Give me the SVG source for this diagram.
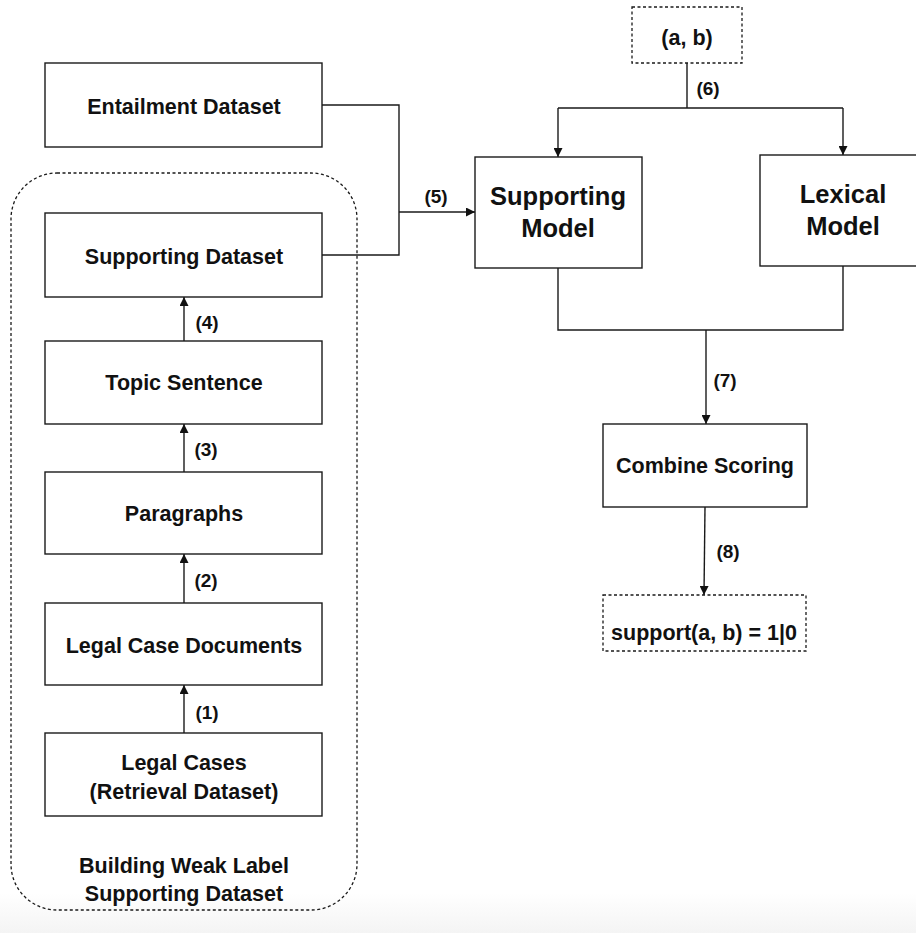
<svg xmlns="http://www.w3.org/2000/svg" width="916" height="933" viewBox="0 0 916 933">
  <defs>
    <marker id="arrow" viewBox="0 0 10 10" refX="10" refY="5" markerWidth="9" markerHeight="9" markerUnits="userSpaceOnUse" orient="auto">
      <path d="M0,0 L10,5 L0,10 z" fill="#111"/>
    </marker>
    <linearGradient id="floor" x1="0" y1="0" x2="0" y2="1">
      <stop offset="0" stop-color="#ffffff"/>
      <stop offset="1" stop-color="#f4f4f4"/>
    </linearGradient>
    <style>
      .box { fill: #fff; stroke: #1a1a1a; stroke-width: 1.4; }
      .dash { fill: none; stroke: #1a1a1a; stroke-width: 1.3; stroke-dasharray: 3 2.5; }
      .dashbox { fill: #fff; stroke: #1a1a1a; stroke-width: 1.3; stroke-dasharray: 3 2.5; }
      .wire { fill: none; stroke: #1a1a1a; stroke-width: 1.4; }
      .arr { marker-end: url(#arrow); }
      text { font-family: "Liberation Sans", Arial, Helvetica, sans-serif; font-weight: bold; fill: #111; text-anchor: middle; }
      .t { font-size: 21.5px; }
      .big { font-size: 25.5px; }
      .lbl { font-size: 19px; }
    </style>
  </defs>

  <rect x="0" y="0" width="916" height="933" fill="#fff"/>
  <rect x="0" y="893" width="916" height="40" fill="url(#floor)"/>

  <!-- grouping frame for the weak-label pipeline -->
  <g id="weak-label-group">
    <rect class="dash" x="11" y="173" width="346" height="737" rx="46" ry="46"/>
    <text class="t" x="184" y="873">Building Weak Label</text>
    <text class="t" x="184" y="901">Supporting Dataset</text>
  </g>

  <!-- connectors -->
  <g id="connectors">
    <path class="wire" d="M322,105 H399 V255 H322"/>
    <path class="wire arr" d="M399,212 H475"/>
    <text class="lbl" x="436" y="203">(5)</text>

    <path class="wire arr" d="M184,341 V297"/>
    <text class="lbl" x="207" y="329">(4)</text>
    <path class="wire arr" d="M184,472 V424"/>
    <text class="lbl" x="206" y="456">(3)</text>
    <path class="wire arr" d="M184,603 V554"/>
    <text class="lbl" x="206" y="587">(2)</text>
    <path class="wire arr" d="M184,733 V685"/>
    <text class="lbl" x="207" y="719">(1)</text>

    <path class="wire" d="M687,63 V108 M558,108 H843"/>
    <path class="wire arr" d="M558,108 V157"/>
    <path class="wire arr" d="M843,108 V155"/>
    <text class="lbl" x="708" y="95">(6)</text>

    <path class="wire" d="M558,268 V330 H843 V266"/>
    <path class="wire arr" d="M706,330 V424"/>
    <text class="lbl" x="725" y="387">(7)</text>

    <path class="wire arr" d="M705,507 L704,595"/>
    <text class="lbl" x="728" y="558">(8)</text>
  </g>

  <!-- nodes -->
  <g id="entailment-dataset">
    <rect class="box" x="45" y="63" width="277" height="84"/>
    <text class="t" x="184" y="114">Entailment Dataset</text>
  </g>
  <g id="supporting-dataset">
    <rect class="box" x="45" y="213" width="277" height="84"/>
    <text class="t" x="184" y="264">Supporting Dataset</text>
  </g>
  <g id="topic-sentence">
    <rect class="box" x="45" y="341" width="277" height="83"/>
    <text class="t" x="184" y="390">Topic Sentence</text>
  </g>
  <g id="paragraphs">
    <rect class="box" x="45" y="472" width="277" height="82"/>
    <text class="t" x="184" y="521">Paragraphs</text>
  </g>
  <g id="legal-case-documents">
    <rect class="box" x="45" y="603" width="277" height="82"/>
    <text class="t" x="184" y="653">Legal Case Documents</text>
  </g>
  <g id="legal-cases">
    <rect class="box" x="45" y="733" width="277" height="83"/>
    <text class="t" x="184" y="770">Legal Cases</text>
    <text class="t" x="184" y="799">(Retrieval Dataset)</text>
  </g>

  <g id="input-pair">
    <rect class="dashbox" x="632" y="7" width="110" height="56"/>
    <text class="t" x="687" y="45">(a, b)</text>
  </g>
  <g id="supporting-model">
    <rect class="box" x="475" y="157" width="167" height="111"/>
    <text class="big" x="558" y="205">Supporting</text>
    <text class="big" x="558" y="237">Model</text>
  </g>
  <g id="lexical-model">
    <rect class="box" x="760" y="155" width="168" height="111"/>
    <text class="big" x="843" y="203">Lexical</text>
    <text class="big" x="843" y="235">Model</text>
  </g>
  <g id="combine-scoring">
    <rect class="box" x="603" y="424" width="204" height="83"/>
    <text class="t" x="705" y="473">Combine Scoring</text>
  </g>
  <g id="support-output">
    <rect class="dashbox" x="603" y="595" width="203" height="56"/>
    <text class="t" x="704" y="640">support(a, b) = 1|0</text>
  </g>
</svg>
